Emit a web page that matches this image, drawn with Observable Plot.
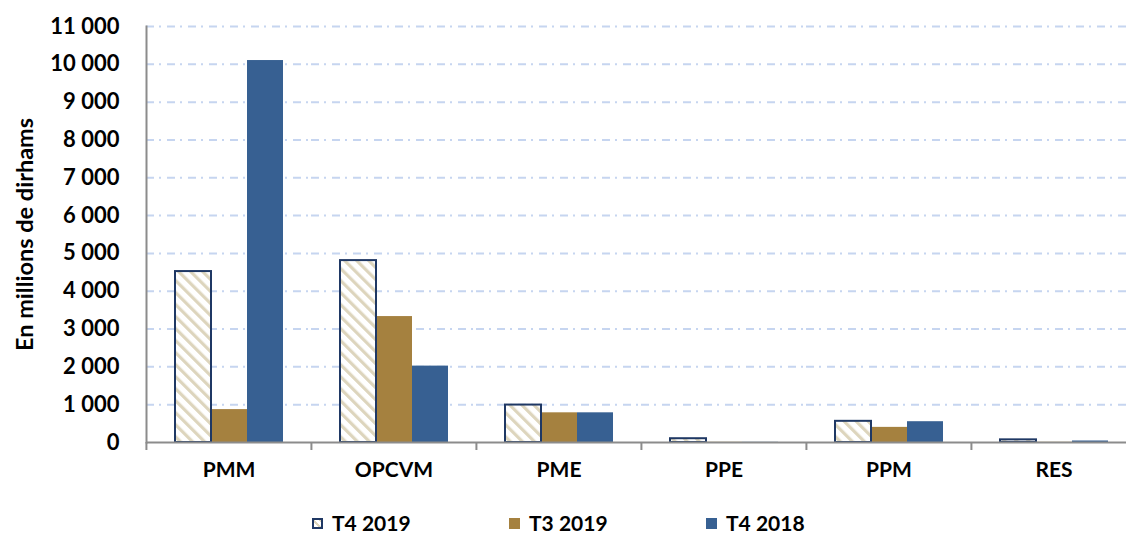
<!DOCTYPE html>
<html>
<head>
<meta charset="utf-8">
<script src="https://cdn.jsdelivr.net/npm/d3@7"></script>
<script src="https://cdn.jsdelivr.net/npm/@observablehq/plot@0.6"></script>
<style>
  html, body { margin: 0; padding: 0; background: #fff; }
  body { width: 1126px; height: 533px; overflow: hidden; font-family: Lato, "Open Sans", sans-serif; }
  #legend { position: relative; height: 38px; font-weight: bold; font-size: 21px; color: #000; }
  .item { position: absolute; top: 14px; display: flex; align-items: center; line-height: 28px; }
  .sw { width: 11px; height: 11px; margin-right: 9px; box-sizing: border-box; }
</style>
</head>
<body>
<div id="chart"></div>
<div id="legend"></div>
<script>
const categories = ["PMM", "OPCVM", "PME", "PPE", "PPM", "RES"];
const seriesNames = ["T4 2019", "T3 2019", "T4 2018"];
const t4_2019 = [4520, 4810, 990, 100, 560, 70];
const t3_2019 = [870, 3330, 785, 5, 400, 5];
const t4_2018 = [10100, 2020, 785, 5, 550, 40];
const yTicks = [0, 1000, 2000, 3000, 4000, 5000, 6000, 7000, 8000, 9000, 10000, 11000];
const colors = ["url(#stripes)", "#a5813f", "#376092"];
const legendSwatch = ["", "#a5813f", "#376092"];

const seriesValues = [t4_2019, t3_2019, t4_2018];
const data = [];
categories.forEach((c, i) => {
  seriesNames.forEach((s, j) => data.push({cat: c, series: s, value: seriesValues[j][i]}));
});

const W = 1126, H = 495;
const fxRange = [145, 1136];
const bw = (fxRange[1] - fxRange[0]) / categories.length;
const fmt = d => d3.format(",")(d).replace(/,/g, " ");

const plot = Plot.plot({
  width: W,
  height: H,
  marginLeft: 145,
  marginRight: 0,
  marginTop: 26,
  marginBottom: H - 442,
  style: {fontFamily: "Lato, 'Open Sans', sans-serif", fontWeight: "bold", fontSize: "21px", color: "#000", background: "#fff"},
  fx: {domain: categories, range: fxRange, padding: 0, label: null},
  x: {domain: seriesNames, paddingInner: 0, paddingOuter: 0.73, axis: null},
  y: {domain: [0, 11000], label: null},
  color: {domain: seriesNames, range: colors},
  marks: [
    Plot.ruleY(yTicks.filter(d => d > 0), {stroke: "#c6d5f0", strokeWidth: 2, strokeDasharray: "8,5,2,6"}),
    Plot.barY(data, {
      filter: d => d.series !== seriesNames[0],
      fx: "cat", x: "series", y: "value", fill: "series"
    }),
    Plot.barY(data, {
      filter: d => d.series === seriesNames[0],
      fx: "cat", x: "series", y: "value", fill: "series",
      stroke: "#1f3864", strokeWidth: 2
    }),
    Plot.ruleY([0], {stroke: "#8c8c8c", strokeWidth: 2}),
    Plot.frame({facet: "super", anchor: "left", stroke: "#8c8c8c", strokeWidth: 2}),
    Plot.axisY({ticks: yTicks, tickFormat: fmt, tickSize: 0, tickPadding: 27, fontSize: 22, fontWeight: "bold", fill: "#000",
      label: "En millions de dirhams", labelAnchor: "center", labelOffset: 130, labelArrow: "none"}),
    Plot.axisFx({anchor: "bottom", tickSize: 0, tickPadding: 20, fontSize: 21, fontWeight: "bold", fill: "#000", label: null}),
    Plot.axisFx({anchor: "bottom", tickSize: 8, tickFormat: () => "", dx: -bw / 2, stroke: "#8c8c8c", strokeWidth: 2, label: null})
  ]
});

// hatch pattern for T4 2019
const svg = d3.select(plot.tagName.toLowerCase() === "svg" ? plot : plot.querySelector("svg"));
const defs = svg.insert("defs", ":first-child");
const pat = defs.append("pattern")
  .attr("id", "stripes")
  .attr("patternUnits", "userSpaceOnUse")
  .attr("width", 8.5).attr("height", 8.5)
  .attr("patternTransform", "rotate(-45)");
pat.append("rect").attr("width", 8.5).attr("height", 8.5).attr("fill", "#ffffff");
pat.append("rect").attr("width", 3.2).attr("height", 8.5).attr("fill", "#ddd5bd");
document.getElementById("chart").appendChild(plot);
// y-axis title size
svg.selectAll("text").filter(function() { return this.textContent === "En millions de dirhams"; })
  .style("font-size", "23.5px");

// legend
const legendX = [312, 509, 706];
const leg = d3.select("#legend");
seriesNames.forEach((s, j) => {
  const item = leg.append("div").attr("class", "item").style("left", legendX[j] + "px");
  const sw = item.append("div").attr("class", "sw");
  if (j === 0) {
    sw.style("border", "2px solid #1f3864")
      .style("background", "repeating-linear-gradient(45deg, #fff 0 3px, #ddd5bd 3px 5px)");
  } else {
    sw.style("background", legendSwatch[j]);
  }
  item.append("span").text(s);
});
</script>
</body>
</html>
